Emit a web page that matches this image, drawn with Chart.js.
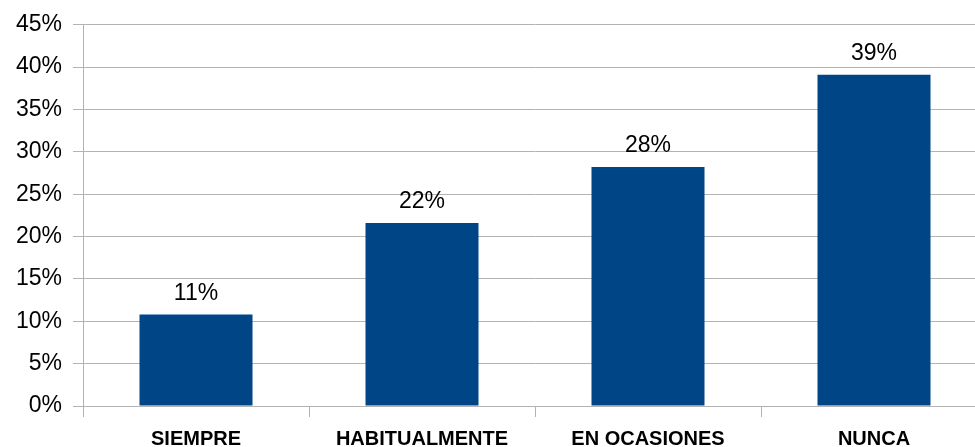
<!DOCTYPE html>
<html>
<head>
<meta charset="utf-8">
<script src="https://cdn.jsdelivr.net/npm/chart.js@4"></script>
<style>
html,body{margin:0;padding:0;background:#fff;overflow:hidden;width:975px;height:447px;}
#wrap{position:relative;width:1000px;height:447px;}
</style>
</head>
<body>
<div id="wrap"><canvas id="c" width="1000" height="447"></canvas></div>
<script>
const categories = ["SIEMPRE", "HABITUALMENTE", "EN OCASIONES", "NUNCA"];
const values = [10.8, 21.6, 28.2, 39.1];
const valueLabels = ["11%", "22%", "28%", "39%"];
const yTicks = [0, 5, 10, 15, 20, 25, 30, 35, 40, 45];

const GRID = '#b3b3b3';
const BAR = '#004586';

const barLabels = {
  id: 'barLabels',
  afterDatasetsDraw(chart) {
    const ctx = chart.ctx;
    const meta = chart.getDatasetMeta(0);
    ctx.save();
    ctx.font = '23px "Liberation Sans", Arial, sans-serif';
    ctx.fillStyle = '#000';
    ctx.textAlign = 'center';
    ctx.textBaseline = 'alphabetic';
    meta.data.forEach((bar, i) => {
      ctx.fillText(valueLabels[i], bar.x, bar.y - 15);
    });
    ctx.restore();
  }
};

new Chart(document.getElementById('c'), {
  type: 'bar',
  data: {
    labels: categories,
    datasets: [{
      data: values,
      backgroundColor: BAR,
      borderWidth: 0,
      categoryPercentage: 1.0,
      barPercentage: 0.5
    }]
  },
  options: {
    responsive: false,
    animation: false,
    devicePixelRatio: 1,
    layout: { padding: { top: 24, right: 13, left: 0, bottom: 0 } },
    plugins: { legend: { display: false }, tooltip: { enabled: false } },
    scales: {
      x: {
        grid: { drawOnChartArea: false, drawTicks: true, tickLength: 11, color: GRID, lineWidth: 1 },
        border: { display: true, color: GRID, width: 1 },
        ticks: {
          color: '#000',
          padding: 10,
          maxRotation: 0,
          autoSkip: false,
          font: { family: '"Liberation Sans", Arial, sans-serif', size: 20, weight: 'bold' }
        },
        afterFit(scale) { scale.height = 41; }
      },
      y: {
        min: 0,
        max: 45,
        afterBuildTicks(scale) { scale.ticks = yTicks.map(v => ({ value: v })); },
        grid: { color: GRID, lineWidth: 1, tickLength: 10, drawTicks: true },
        border: { display: true, color: GRID, width: 1 },
        ticks: {
          color: '#000',
          padding: 11,
          font: { family: '"Liberation Sans", Arial, sans-serif', size: 23 },
          callback: v => v + '%'
        },
        afterFit(scale) { scale.width = 83; }
      }
    }
  },
  plugins: [barLabels]
});
</script>
</body>
</html>
